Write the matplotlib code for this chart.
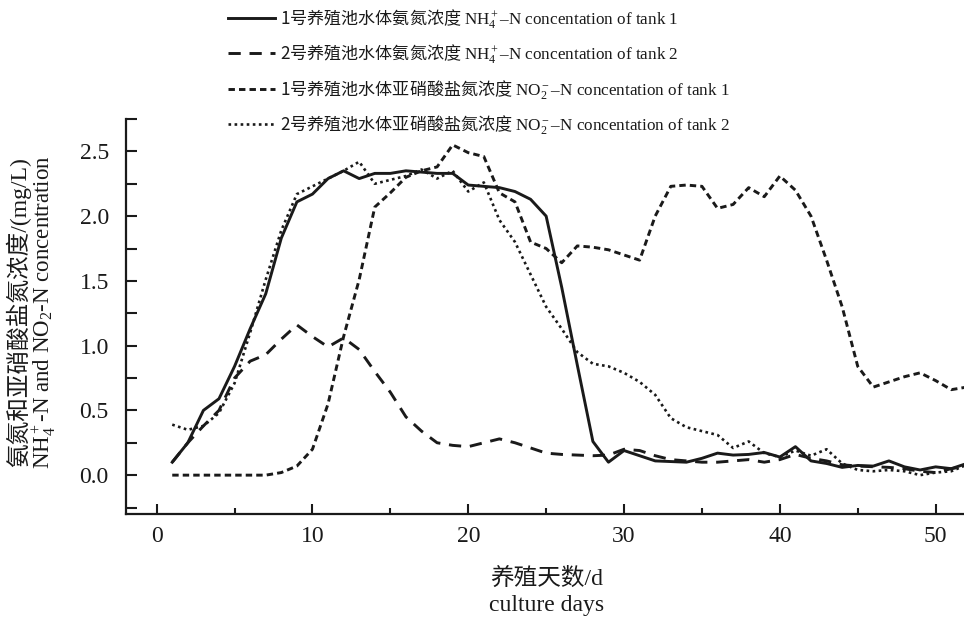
import numpy as np
import matplotlib
matplotlib.use("Agg")
import matplotlib.pyplot as plt
from matplotlib.font_manager import FontProperties

plt.rcParams['font.family'] = ['Liberation Serif', 'Noto Sans CJK SC']
plt.rcParams['mathtext.fontset'] = 'custom'
plt.rcParams['mathtext.rm'] = 'Liberation Serif'
plt.rcParams['mathtext.it'] = 'Liberation Serif:italic'
plt.rcParams['mathtext.bf'] = 'Liberation Serif:bold'

days = list(range(1, 53))

nh4_tank1 = [0.10, 0.25, 0.50, 0.59, 0.84, 1.13, 1.40, 1.83, 2.11, 2.17,
             2.29, 2.35, 2.29, 2.33, 2.33, 2.35, 2.34, 2.33, 2.33, 2.24,
             2.23, 2.22, 2.19, 2.13, 2.00, 1.45, 0.85, 0.26, 0.10, 0.19,
             0.15, 0.11, 0.105, 0.10, 0.13, 0.17, 0.155, 0.16, 0.175, 0.14,
             0.22, 0.11, 0.09, 0.06, 0.075, 0.07, 0.11, 0.064, 0.04, 0.064,
             0.05, 0.09]

nh4_tank2 = [0.10, 0.25, 0.38, 0.50, 0.75, 0.88, 0.93, 1.05, 1.16, 1.07,
             0.99, 1.06, 0.97, 0.80, 0.64, 0.45, 0.34, 0.25, 0.23, 0.22,
             0.25, 0.28, 0.25, 0.21, 0.17, 0.16, 0.155, 0.15, 0.155, 0.20,
             0.19, 0.15, 0.12, 0.11, 0.10, 0.10, 0.11, 0.12, 0.10, 0.12,
             0.16, 0.13, 0.11, 0.08, 0.07, 0.065, 0.06, 0.05, 0.03, 0.02,
             0.05, 0.07]

no2_tank1 = [0.0, 0.0, 0.0, 0.0, 0.0, 0.0, 0.0, 0.02, 0.07, 0.20,
             0.55, 1.07, 1.51, 2.07, 2.18, 2.30, 2.35, 2.38, 2.55, 2.49,
             2.46, 2.18, 2.11, 1.80, 1.75, 1.64, 1.77, 1.76, 1.74, 1.70,
             1.66, 2.00, 2.23, 2.24, 2.23, 2.06, 2.09, 2.22, 2.15, 2.31,
             2.20, 2.00, 1.66, 1.30, 0.84, 0.68, 0.72, 0.76, 0.79, 0.73,
             0.66, 0.68]

no2_tank2 = [0.39, 0.35, 0.38, 0.48, 0.71, 1.10, 1.51, 1.89, 2.17, 2.23,
             2.29, 2.35, 2.42, 2.25, 2.28, 2.31, 2.36, 2.29, 2.35, 2.19,
             2.26, 1.97, 1.80, 1.55, 1.30, 1.13, 0.95, 0.86, 0.84, 0.79,
             0.72, 0.62, 0.44, 0.37, 0.34, 0.31, 0.21, 0.26, 0.17, 0.14,
             0.19, 0.15, 0.20, 0.09, 0.04, 0.03, 0.04, 0.03, 0.0, 0.02,
             0.03, 0.08]

labels = [
    '1号养殖池水体氨氮浓度 $\\mathrm{NH}_4^+\\text{–N concentation of tank 1}$',
    '2号养殖池水体氨氮浓度 $\\mathrm{NH}_4^+\\text{–N concentation of tank 2}$',
    '1号养殖池水体亚硝酸盐氮浓度 $\\mathrm{NO}_2^-\\text{–N concentation of tank 1}$',
    '2号养殖池水体亚硝酸盐氮浓度 $\\mathrm{NO}_2^-\\text{–N concentation of tank 2}$',
]

fig = plt.figure(figsize=(9.64, 6.17), dpi=100)
ax = fig.add_axes([125.5 / 964, 1 - 514 / 617, 841.3 / 964, (514 - 119) / 617])

c = '#1a1a1a'
h1, = ax.plot(days, nh4_tank1, color=c, lw=2.1, ls='-', label=labels[0])
h2, = ax.plot(days, nh4_tank2, color=c, lw=2.1, ls=(0, (4.2, 3.0)), label=labels[1])
h3, = ax.plot(days, no2_tank1, color=c, lw=2.1, ls=(0, (2.2, 1.4)), label=labels[2])
h4, = ax.plot(days, no2_tank2, color=c, lw=1.9, ls=(0, (1.0, 1.3)), label=labels[3])

ax.set_xlim(-2, 52)
ax.set_ylim(-0.3, 2.75)
ax.set_xticks(np.arange(0, 51, 10))
ax.set_xticks(np.arange(5, 50, 10), minor=True)
ax.set_yticks(np.arange(0, 2.51, 0.5))
ax.set_yticks(np.arange(-0.25, 2.76, 0.25), minor=True)
ax.set_yticklabels(['%.1f' % v for v in np.arange(0, 2.51, 0.5)])

for s in ['top', 'right']:
    ax.spines[s].set_visible(False)
for s in ['left', 'bottom']:
    ax.spines[s].set_linewidth(1.6)
    ax.spines[s].set_color(c)

ax.tick_params(axis='both', which='both', direction='in', width=1.5, colors=c,
               labelsize=17, labelcolor=c)
ax.tick_params(axis='x', which='major', length=7.5, pad=9)
ax.tick_params(axis='x', which='minor', length=4)
ax.tick_params(axis='y', which='major', length=8, pad=12)
ax.tick_params(axis='y', which='minor', length=8)

fig.text(546.5 / 964, 1 - 585 / 617, '养殖天数/d', ha='center', va='baseline',
         fontsize=17, color=c)
fig.text(546.5 / 964, 1 - 611 / 617, 'culture days', ha='center', va='baseline',
         fontsize=17, color=c)

fig.text(19 / 964, 1 - 312 / 617, '氨氮和亚硝酸盐氮浓度/(mg/L)', rotation=90,
         ha='center', va='center', fontsize=17, color=c)
fig.text(44 / 964, 1 - 312 / 617, 'NH$_4^+$-N and NO$_2$-N concentration', rotation=90,
         ha='center', va='center', fontsize=16.5, color=c)

leg = fig.legend(handles=[h1, h2, h3, h4], loc='upper left',
                 bbox_to_anchor=(228 / 964, 1 - 7 / 617),
                 frameon=False, borderpad=0, borderaxespad=0,
                 handlelength=2.75, handletextpad=0.3, labelspacing=0.72,
                 prop=FontProperties(family='Noto Sans CJK SC', size=12.3))
for t in leg.get_texts():
    t.set_color(c)

fig.savefig('out.png', dpi=100)
